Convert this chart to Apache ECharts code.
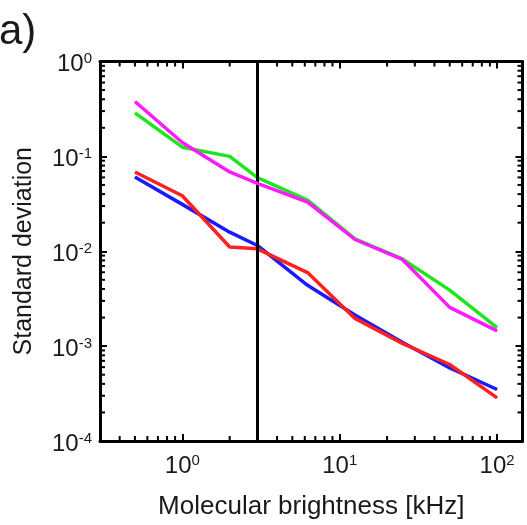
<!DOCTYPE html>
<html>
<head>
<meta charset="utf-8">
<script src="https://cdn.jsdelivr.net/npm/echarts@6/dist/echarts.min.js"></script>
<style>
html,body{margin:0;padding:0;background:#fff;}
#chart{width:527px;height:525px;}
</style>
</head>
<body>
<div id="chart"></div>
<script>
// ---- data ----
const brightness = [0.5, 1, 2, 3, 6.25, 12.5, 25, 50, 100];
const blueSeries    = [0.0607, 0.0312, 0.0159, 0.0115, 0.00438, 0.00213, 0.00110, 0.000589, 0.000349];
const redSeries     = [0.0685, 0.0384, 0.0111, 0.0106, 0.00596, 0.00196, 0.00107, 0.00064, 0.000285];
const greenSeries   = [0.287, 0.125, 0.100, 0.0598, 0.0346, 0.0135, 0.0083, 0.00389, 0.00157];
const magentaSeries = [0.379, 0.140, 0.0685, 0.0518, 0.033, 0.0133, 0.0082, 0.00256, 0.00145];
const markerX = [3];
const xRange = [0.3, 145];
const yRange = [1e-4, 1];
// minor tick values (2..9 x 10^k)
const xMinorTicks = [0.4,0.5,0.6,0.7,0.8,0.9,2,3,4,5,6,7,8,9,20,30,40,50,60,70,80,90];
const yMinorTicks = [];
[1e-4,1e-3,1e-2,1e-1].forEach(function(d){ for (let m = 2; m <= 9; m++) yMinorTicks.push(+(m*d).toPrecision(3)); });

const FONT = 'Liberation Sans, Arial, sans-serif';
const TXT = '#1a1a1a';

function pair(xs, ys){ return xs.map(function(x,i){ return [x, ys[i]]; }); }

function powLabel(v){
  const e = Math.log10(v);
  const r = Math.round(e);
  if (Math.abs(e - r) > 1e-6) return '';
  return '{b|10}{s|' + r + '}';
}
const rich = {
  b: {fontSize: 24, lineHeight: 26, fontFamily: FONT, color: TXT},
  s: {fontSize: 15, lineHeight: 14, fontFamily: FONT, color: TXT, verticalAlign: 'top'}
};

const axisLine = {show: true, onZero: false, lineStyle: {color: '#000', width: 3}};
const axisTick = {show: true, inside: true, length: 7, lineStyle: {color: '#000', width: 2}};

const chart = echarts.init(document.getElementById('chart'), null, {renderer: 'canvas'});

function minorX(params, api){
  const cs = params.coordSys;
  const x = api.coord([api.value(0), yRange[0]])[0];
  const b = cs.y + cs.height, t = cs.y, L = 5;
  const st = {stroke: '#000', lineWidth: 2};
  return {type: 'group', children: [
    {type: 'line', shape: {x1: x, y1: b, x2: x, y2: b - L}, style: st},
    {type: 'line', shape: {x1: x, y1: t, x2: x, y2: t + L}, style: st}
  ]};
}
function minorY(params, api){
  const cs = params.coordSys;
  const y = api.coord([xRange[0], api.value(1)])[1];
  const l = cs.x, r = cs.x + cs.width, L = 5;
  const st = {stroke: '#000', lineWidth: 2};
  return {type: 'group', children: [
    {type: 'line', shape: {x1: l, y1: y, x2: l + L, y2: y}, style: st},
    {type: 'line', shape: {x1: r, y1: y, x2: r - L, y2: y}, style: st}
  ]};
}

function lineSeries(ys, color, z){
  return {
    type: 'line', data: pair(brightness, ys), showSymbol: false, symbol: 'none',
    lineStyle: {color: color, width: 3.5}, itemStyle: {color: color}, z: z, silent: true, animation: false
  };
}

chart.setOption({
  animation: false,
  backgroundColor: '#fff',
  graphic: [{
    type: 'text', left: -1, top: 11,
    style: {text: 'a)', font: '42px ' + FONT, fill: TXT}
  }],
  grid: {left: 100, right: 4.5, top: 61.5, bottom: 81.5, containLabel: false},
  xAxis: [{
    type: 'log', logBase: 10, min: xRange[0], max: xRange[1], position: 'bottom',
    axisLine: axisLine, axisTick: axisTick, splitLine: {show: false},
    axisLabel: {formatter: powLabel, rich: rich, margin: 12, showMinLabel: false, showMaxLabel: false},
    name: 'Molecular brightness [kHz]', nameLocation: 'middle', nameGap: 53,
    nameTextStyle: {fontSize: 26, fontFamily: FONT, color: TXT}
  }, {
    type: 'log', logBase: 10, min: xRange[0], max: xRange[1], position: 'top',
    axisLine: axisLine, axisTick: axisTick, splitLine: {show: false}, axisLabel: {show: false}
  }],
  yAxis: [{
    type: 'log', logBase: 10, min: yRange[0], max: yRange[1], position: 'left',
    axisLine: axisLine, axisTick: axisTick, splitLine: {show: false},
    axisLabel: {formatter: powLabel, rich: rich, margin: 8, padding: [6, 0, 0, 0]},
    name: 'Standard deviation', nameLocation: 'middle', nameGap: 63,
    nameTextStyle: {fontSize: 25, fontFamily: FONT, color: TXT}
  }, {
    type: 'log', logBase: 10, min: yRange[0], max: yRange[1], position: 'right',
    axisLine: axisLine, axisTick: axisTick, splitLine: {show: false}, axisLabel: {show: false}
  }],
  series: [
    {type: 'custom', renderItem: minorX, data: xMinorTicks.map(function(v){ return [v, yRange[0]]; }), silent: true, z: 5, clip: false},
    {type: 'custom', renderItem: minorY, data: yMinorTicks.map(function(v){ return [xRange[0], v]; }), silent: true, z: 5, clip: false},
    Object.assign(lineSeries(blueSeries, '#1a1aff', 2), {
      markLine: {
        silent: true, symbol: 'none', label: {show: false},
        lineStyle: {color: '#000', width: 3, type: 'solid'},
        data: markerX.map(function(v){ return {xAxis: v}; })
      }
    }),
    lineSeries(redSeries, '#ff2020', 3),
    lineSeries(greenSeries, '#1ee61e', 4),
    lineSeries(magentaSeries, '#ff1aff', 5)
  ]
});
</script>
</body>
</html>
